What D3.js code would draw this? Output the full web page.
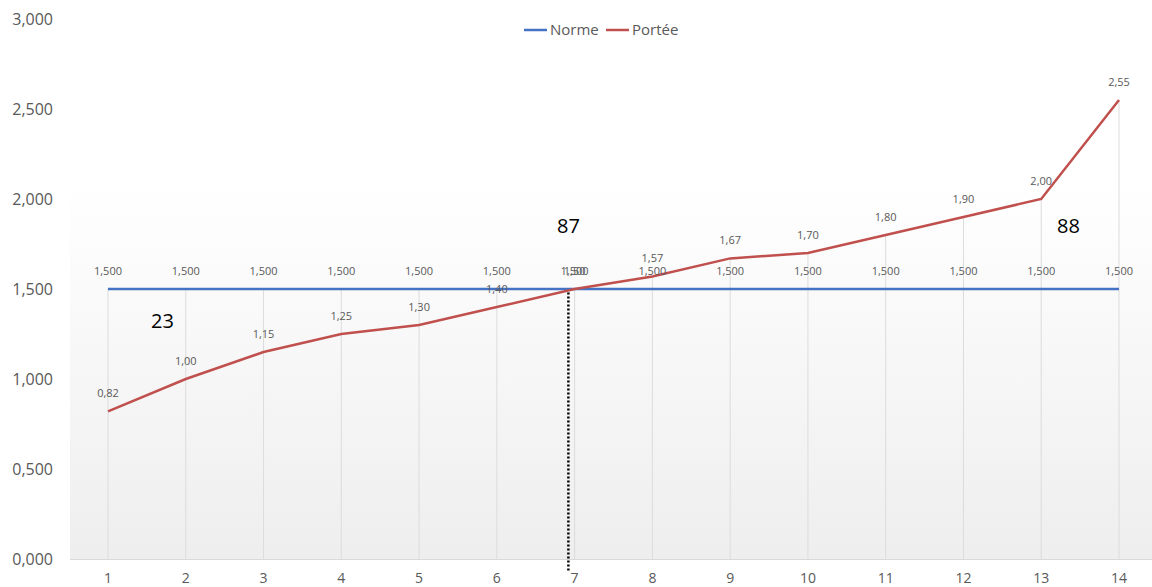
<!DOCTYPE html>
<html><head><meta charset="utf-8">
<script src="https://cdn.jsdelivr.net/npm/d3@7"></script>
<style>body{margin:0;background:#fff}svg{display:block;font-family:"Open Sans","Liberation Sans",sans-serif}</style>
</head><body><svg id="c" width="1152" height="587"></svg>
<script>
const categories = [1,2,3,4,5,6,7,8,9,10,11,12,13,14];
const norme = [1.5,1.5,1.5,1.5,1.5,1.5,1.5,1.5,1.5,1.5,1.5,1.5,1.5,1.5];
const portee = [0.82,1.00,1.15,1.25,1.30,1.40,1.50,1.57,1.67,1.70,1.80,1.90,2.00,2.55];
const yTicks = [0,0.5,1,1.5,2,2.5,3];
const annotations = [{x:1.7,y:1.32,t:"23"},{x:6.92,y:1.85,t:"87"},{x:13.35,y:1.85,t:"88"}];
const markerX = 6.92;

const svg = d3.select("#c");
const x = d3.scaleLinear().domain([1,14]).range([108,1119]);
const y = d3.scaleLinear().domain([0,3]).range([559,19]);

const defs = svg.append("defs");
const g = defs.append("linearGradient").attr("id","bg").attr("x1",0).attr("y1",0).attr("x2",0).attr("y2",1);
g.append("stop").attr("offset","0%").attr("stop-color","#ffffff");
g.append("stop").attr("offset","30%").attr("stop-color","#ffffff");
g.append("stop").attr("offset","100%").attr("stop-color","#eeeeee");
svg.append("rect").attr("x",70).attr("y",y(3)).attr("width",1152-70).attr("height",y(0)-y(3)).attr("fill","url(#bg)");

// drop lines from the highest point of each category to the axis
svg.append("g").selectAll("line").data(categories).join("line")
  .attr("x1",d=>x(d)).attr("x2",d=>x(d)).attr("y1",y(0)).attr("y2",(d,i)=>y(Math.max(norme[i],portee[i])))
  .attr("stroke","#dcdcdc").attr("stroke-width",1);
// bottom axis line
svg.append("line").attr("x1",70).attr("x2",1152).attr("y1",y(0)+0.5).attr("y2",y(0)+0.5).attr("stroke","#d9d9d9");

// y axis labels
svg.append("g").selectAll("text").data(yTicks).join("text")
  .attr("x",53).attr("y",d=>y(d)).attr("dy","0.35em").attr("text-anchor","end")
  .attr("font-size",16).attr("fill","#595959")
  .text(d=>d3.format(".3f")(d).replace(".", ","));
// x labels
svg.append("g").selectAll("text").data(categories).join("text")
  .attr("x",d=>x(d)).attr("y",578).attr("dy","0.35em").attr("text-anchor","middle")
  .attr("font-size",14).attr("fill","#595959").text(d=>d);

// dashed marker
svg.append("line").attr("x1",x(markerX)).attr("x2",x(markerX)).attr("y1",y(1.48)).attr("y2",571)
  .attr("stroke","#000").attr("stroke-width",2.5).attr("stroke-dasharray","2,2");

const line = d3.line().x((d,i)=>x(categories[i])).y(d=>y(d));
svg.append("path").datum(norme).attr("d",line).attr("fill","none").attr("stroke","#4472c4").attr("stroke-width",2.5);
svg.append("path").datum(portee).attr("d",line).attr("fill","none").attr("stroke","#c0504d").attr("stroke-width",2.5);

// data labels
svg.append("g").selectAll("text").data(norme).join("text")
  .attr("x",(d,i)=>x(categories[i])).attr("y",d=>y(d)-18).attr("dy","0.35em").attr("text-anchor","middle")
  .attr("font-size",11).attr("fill","#595959").text(d=>d3.format(".3f")(d).replace(".",","));
svg.append("g").selectAll("text").data(portee).join("text")
  .attr("x",(d,i)=>x(categories[i])).attr("y",d=>y(d)-18).attr("dy","0.35em").attr("text-anchor","middle")
  .attr("font-size",11).attr("fill","#595959").text(d=>d3.format(".2f")(d).replace(".",","));

// annotations
svg.append("g").selectAll("text").data(annotations).join("text")
  .attr("x",d=>x(d.x)).attr("y",d=>y(d.y)).attr("dy","0.35em").attr("text-anchor","middle")
  .attr("font-size",20).attr("fill","#000").text(d=>d.t);

// legend
const leg = [{n:"Norme",c:"#4472c4",x:524},{n:"Portée",c:"#c0504d",x:606}];
const lg = svg.append("g");
leg.forEach(l=>{
  lg.append("line").attr("x1",l.x).attr("x2",l.x+23).attr("y1",30).attr("y2",30).attr("stroke",l.c).attr("stroke-width",2.5);
  lg.append("text").attr("x",l.x+26).attr("y",30).attr("dy","0.35em").attr("font-size",15).attr("fill","#595959").text(l.n);
});
</script></body></html>
